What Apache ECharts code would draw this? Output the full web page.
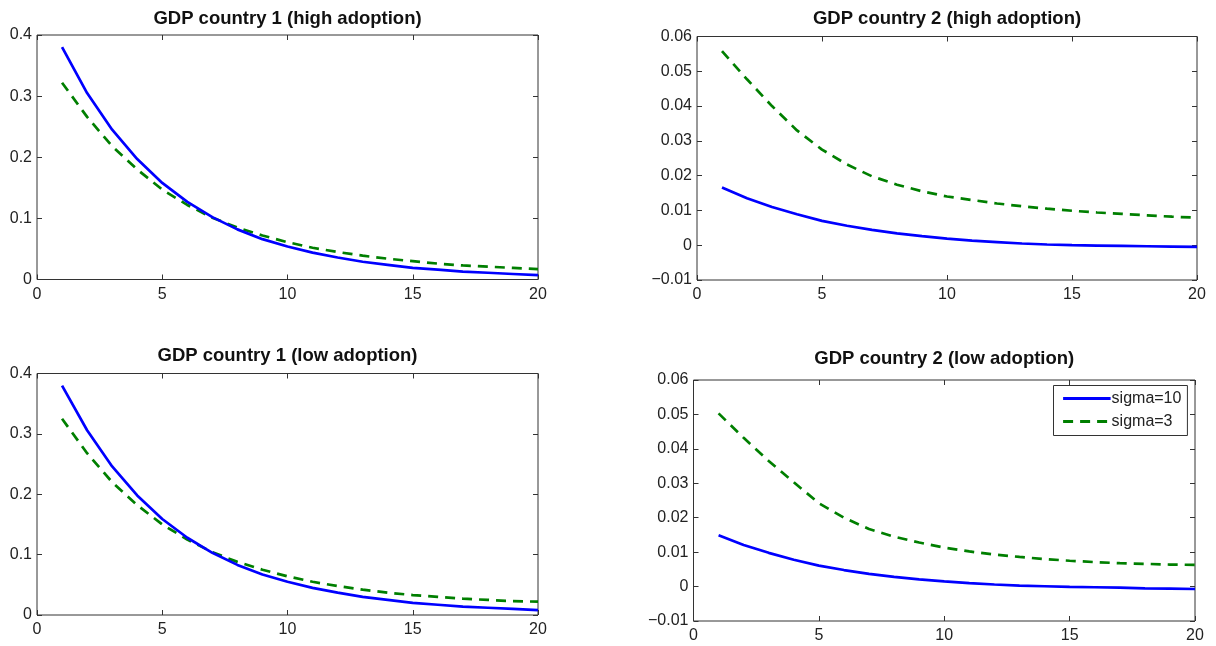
<!DOCTYPE html>
<html>
<head>
<meta charset="utf-8">
<title>GDP responses</title>
<script src="https://cdn.jsdelivr.net/npm/echarts@6/dist/echarts.min.js"></script>
<style>
  html, body { margin: 0; padding: 0; background: #ffffff; }
  #chart { width: 1216px; height: 646px; }
</style>
</head>
<body>
<div id="chart"></div>
<script>
// Horizon (periods after the shock)
const steps = [1, 2, 3, 4, 5, 6, 7, 8, 9, 10, 11, 12, 13, 14, 15, 16, 17, 18, 19, 20];

// GDP country 1, high adoption
const c1HighSigma10 = [0.380, 0.305, 0.245, 0.197, 0.158, 0.127, 0.102, 0.082, 0.066, 0.054, 0.044, 0.036, 0.029, 0.024, 0.019, 0.016, 0.013, 0.011, 0.009, 0.007];
const c1HighSigma3  = [0.322, 0.266, 0.218, 0.180, 0.147, 0.122, 0.101, 0.085, 0.072, 0.061, 0.052, 0.045, 0.039, 0.034, 0.030, 0.026, 0.023, 0.021, 0.019, 0.017];

// GDP country 2, high adoption
const c2HighSigma10 = [0.0166, 0.0135, 0.0110, 0.0089, 0.0070, 0.0056, 0.0044, 0.0034, 0.0026, 0.0019, 0.0013, 0.0009, 0.0005, 0.0002, 0.0000, -0.0001, -0.0002, -0.0003, -0.0004, -0.0005];
const c2HighSigma3  = [0.0558, 0.0477, 0.0400, 0.0330, 0.0275, 0.0232, 0.0198, 0.0174, 0.0155, 0.0140, 0.0130, 0.0120, 0.0112, 0.0105, 0.0099, 0.0094, 0.0090, 0.0086, 0.0082, 0.0079];

// GDP country 1, low adoption
const c1LowSigma10 = [0.380, 0.306, 0.246, 0.198, 0.159, 0.128, 0.103, 0.083, 0.067, 0.055, 0.045, 0.037, 0.030, 0.025, 0.020, 0.017, 0.014, 0.012, 0.010, 0.008];
const c1LowSigma3  = [0.325, 0.268, 0.220, 0.182, 0.150, 0.125, 0.104, 0.088, 0.075, 0.064, 0.055, 0.048, 0.042, 0.037, 0.033, 0.030, 0.027, 0.025, 0.023, 0.022];

// GDP country 2, low adoption
const c2LowSigma10 = [0.0149, 0.0121, 0.0098, 0.0078, 0.0061, 0.0048, 0.0037, 0.0028, 0.0021, 0.0015, 0.0010, 0.0006, 0.0003, 0.0001, -0.0001, -0.0002, -0.0003, -0.0005, -0.0006, -0.0007];
const c2LowSigma3  = [0.0503, 0.0432, 0.0365, 0.0303, 0.0242, 0.0200, 0.0167, 0.0145, 0.0128, 0.0113, 0.0102, 0.0093, 0.0086, 0.0080, 0.0075, 0.0071, 0.0068, 0.0066, 0.0064, 0.0063];

const titles = [
  'GDP country 1 (high adoption)',
  'GDP country 2 (high adoption)',
  'GDP country 1 (low adoption)',
  'GDP country 2 (low adoption)'
];
const seriesNames = ['sigma=10', 'sigma=3'];

// y-axis ranges per panel: [min, max, interval]
const yRanges = [
  [0, 0.4, 0.1],
  [-0.01, 0.06, 0.01],
  [0, 0.4, 0.1],
  [-0.01, 0.06, 0.01]
];

// plot-area rectangles (pixels)
const boxes = [
  { left: 37,    top: 35,   width: 501,   height: 244.5 },
  { left: 697,   top: 36.5, width: 500,   height: 243.5 },
  { left: 37,    top: 373.5, width: 501,  height: 241.5 },
  { left: 693.5, top: 380,  width: 501.5, height: 241 }
];
const titleCenters = [18.5, 18.5, 356, 359];

const panelData = [
  [c1HighSigma10, c1HighSigma3],
  [c2HighSigma10, c2HighSigma3],
  [c1LowSigma10, c1LowSigma3],
  [c2LowSigma10, c2LowSigma3]
];

const FONT = 'Liberation Sans, Arial, Helvetica, sans-serif';
const INK = '#222222';
const BLUE = '#0000ff';
const GREEN = '#007f00';

const pairs = (ys) => steps.map((x, i) => [x, ys[i]]);
const fmtTick = (v) => {
  const s = String(Math.round(v * 1000) / 1000);
  return s.replace('-', '\u2212');
};

const grid = [], xAxis = [], yAxis = [], series = [], title = [];

boxes.forEach((b, p) => {
  grid.push({
    left: b.left, top: b.top, width: b.width, height: b.height,
    show: true, borderColor: '#333333', borderWidth: 1, backgroundColor: 'transparent'
  });
  title.push({
    text: titles[p],
    left: b.left + b.width / 2,
    top: titleCenters[p] - 10,
    textAlign: 'center',
    padding: 0,
    textStyle: { fontFamily: FONT, fontSize: 18.5, fontWeight: 'bold', color: '#111111', lineHeight: 20 }
  });

  const tickCommon = { show: true, inside: true, length: 5, lineStyle: { color: '#333333', width: 1 } };
  const noLine = { show: false, onZero: false };

  // bottom / top x axes
  xAxis.push({
    type: 'value', gridIndex: p, position: 'bottom', min: 0, max: 20, interval: 5,
    axisLine: noLine, axisTick: tickCommon, splitLine: { show: false },
    axisLabel: { fontFamily: FONT, fontSize: 16, color: INK, margin: 7 }
  });
  xAxis.push({
    type: 'value', gridIndex: p, position: 'top', min: 0, max: 20, interval: 5,
    axisLine: noLine, axisTick: tickCommon, splitLine: { show: false },
    axisLabel: { show: false }
  });

  const [ymin, ymax, yint] = yRanges[p];
  yAxis.push({
    type: 'value', gridIndex: p, position: 'left', min: ymin, max: ymax, interval: yint,
    axisLine: noLine, axisTick: tickCommon, splitLine: { show: false },
    axisLabel: { fontFamily: FONT, fontSize: 16, color: INK, margin: 5, formatter: fmtTick }
  });
  yAxis.push({
    type: 'value', gridIndex: p, position: 'right', min: ymin, max: ymax, interval: yint,
    axisLine: noLine, axisTick: tickCommon, splitLine: { show: false },
    axisLabel: { show: false }
  });

  const [s10, s3] = panelData[p];
  series.push({
    name: seriesNames[0], type: 'line', xAxisIndex: 2 * p, yAxisIndex: 2 * p,
    data: pairs(s10), symbol: 'none', smooth: false, z: 3,
    lineStyle: { color: BLUE, width: 2.7, type: 'solid' },
    itemStyle: { color: BLUE }
  });
  series.push({
    name: seriesNames[1], type: 'line', xAxisIndex: 2 * p, yAxisIndex: 2 * p,
    data: pairs(s3), symbol: 'none', smooth: false, z: 2,
    lineStyle: { color: GREEN, width: 2.7, type: [10, 7] },
    itemStyle: { color: GREEN }
  });
});

const chart = echarts.init(document.getElementById('chart'), null, { renderer: 'canvas' });
chart.setOption({
  animation: false,
  backgroundColor: '#ffffff',
  title,
  grid,
  xAxis,
  yAxis,
  series,
  legend: {
    data: seriesNames,
    orient: 'vertical',
    left: 1053.5,
    top: 385.5,
    padding: [5, 6, 6, 8],
    itemGap: 7,
    itemWidth: 47.5,
    itemHeight: 16,
    backgroundColor: '#ffffff',
    borderColor: '#333333',
    borderWidth: 1,
    borderRadius: 0,
    itemStyle: { opacity: 0 },
    lineStyle: { width: 3.2 },
    textStyle: { fontFamily: FONT, fontSize: 16, color: INK, padding: [0, 0, 0, -4] }
  }
});
</script>
</body>
</html>
